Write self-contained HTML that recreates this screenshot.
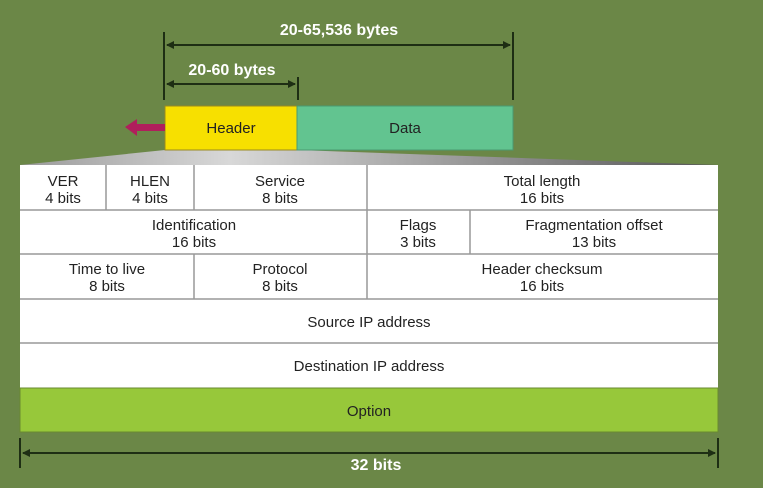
<!DOCTYPE html>
<html><head><meta charset="utf-8"><style>
html,body{margin:0;padding:0;background:#6b8747;}
svg{display:block;}
text{font-family:"Liberation Sans",sans-serif;font-size:15px;fill:#222;text-anchor:middle;}
.w{fill:#fff;font-weight:bold;font-size:16px;}
</style></head><body>
<svg width="763" height="488" viewBox="0 0 763 488" xmlns="http://www.w3.org/2000/svg">
<defs>
<linearGradient id="g" x1="0" x2="1" y1="0" y2="0">
<stop offset="0" stop-color="#9a9a9a"/><stop offset="0.3" stop-color="#d8d8d8"/><stop offset="1" stop-color="#555"/>
</linearGradient>
<marker id="a" markerWidth="8" markerHeight="8" refX="7" refY="4" orient="auto-start-reverse" markerUnits="userSpaceOnUse"><path d="M0,0 L8,4 L0,8 z" fill="#1e2e14"/></marker>
</defs>
<rect width="763" height="488" fill="#6b8747"/>
<!-- top dimension lines -->
<g stroke="#1e2e14" stroke-width="2">
<line x1="164" y1="32" x2="164" y2="100"/>
<line x1="513" y1="32" x2="513" y2="100"/>
<line x1="298" y1="77" x2="298" y2="100"/>
<line x1="167" y1="45" x2="510" y2="45" marker-start="url(#a)" marker-end="url(#a)"/>
<line x1="167" y1="84" x2="295" y2="84" marker-start="url(#a)" marker-end="url(#a)"/>
</g>
<text class="w" x="339" y="35">20-65,536 bytes</text>
<text class="w" x="232" y="75">20-60 bytes</text>
<!-- trapezoid -->
<polygon points="165,150 297,150 718,165 20,165" fill="url(#g)"/>
<!-- header/data -->
<rect x="165" y="106" width="132" height="44" fill="#f7e000" stroke="#9a8a20" stroke-width="1"/>
<rect x="297" y="106" width="216" height="44" fill="#62c490" stroke="#4a9a70" stroke-width="1"/>
<text x="231" y="133">Header</text>
<text x="405" y="133">Data</text>
<!-- pink arrow -->
<polygon points="125,127 137,119 137,124 165,124 165,131 137,131 137,136" fill="#b01f5c"/>
<!-- table -->
<rect x="20" y="165" width="698" height="223" fill="#fff"/>
<rect x="20" y="388" width="698" height="44" fill="#97c83a" stroke="#6a8a30" stroke-width="1"/>
<g stroke="#999" stroke-width="1.5">
<line x1="20" y1="210" x2="718" y2="210"/>
<line x1="20" y1="254" x2="718" y2="254"/>
<line x1="20" y1="299" x2="718" y2="299"/>
<line x1="20" y1="343" x2="718" y2="343"/>
<line x1="106" y1="165" x2="106" y2="210"/>
<line x1="194" y1="165" x2="194" y2="210"/>
<line x1="367" y1="165" x2="367" y2="299"/>
<line x1="470" y1="210" x2="470" y2="254"/>
<line x1="194" y1="254" x2="194" y2="299"/>
</g>
<text x="63" y="186">VER</text><text x="63" y="203">4 bits</text>
<text x="150" y="186">HLEN</text><text x="150" y="203">4 bits</text>
<text x="280" y="186">Service</text><text x="280" y="203">8 bits</text>
<text x="542" y="186">Total length</text><text x="542" y="203">16 bits</text>
<text x="194" y="230">Identification</text><text x="194" y="247">16 bits</text>
<text x="418" y="230">Flags</text><text x="418" y="247">3 bits</text>
<text x="594" y="230">Fragmentation offset</text><text x="594" y="247">13 bits</text>
<text x="107" y="274">Time to live</text><text x="107" y="291">8 bits</text>
<text x="280" y="274">Protocol</text><text x="280" y="291">8 bits</text>
<text x="542" y="274">Header checksum</text><text x="542" y="291">16 bits</text>
<text x="369" y="327">Source IP address</text>
<text x="369" y="371">Destination IP address</text>
<text x="369" y="416">Option</text>
<!-- bottom dimension -->
<g stroke="#1e2e14" stroke-width="2">
<line x1="20" y1="438" x2="20" y2="468"/>
<line x1="718" y1="438" x2="718" y2="468"/>
<line x1="23" y1="453" x2="715" y2="453" marker-start="url(#a)" marker-end="url(#a)"/>
</g>
<text class="w" x="376" y="470">32 bits</text>
</svg>
</body></html>
